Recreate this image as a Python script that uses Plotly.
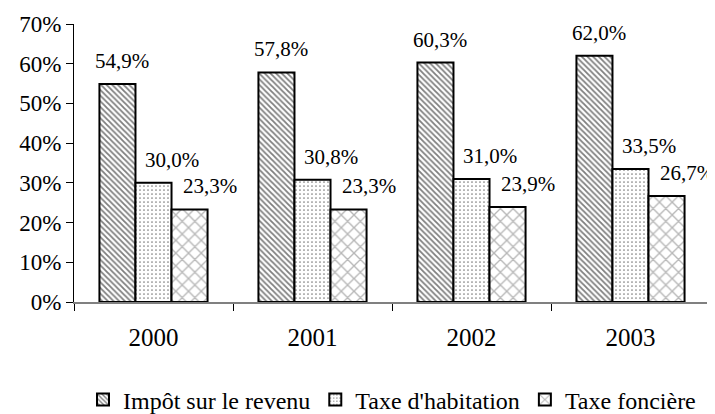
import plotly.graph_objects as go

years = ["2000", "2001", "2002", "2003"]
series_names = ["Impôt sur le revenu", "Taxe d'habitation", "Taxe foncière"]
impot = [54.9, 57.8, 60.3, 62.0]
habitation = [30.0, 30.8, 31.0, 33.5]
fonciere = [23.3, 23.3, 23.9, 26.7]
y_ticks = [0, 10, 20, 30, 40, 50, 60, 70]
y_tick_labels = ["0%", "10%", "20%", "30%", "40%", "50%", "60%", "70%"]

values = [impot, habitation, fonciere]
patterns = [
    dict(shape="\\", size=4, solidity=0.45, fgcolor="black", bgcolor="white"),
    dict(shape=".", size=4, solidity=0.15, fgcolor="black", bgcolor="white"),
    dict(shape="x", size=9, solidity=0.28, fgcolor="#707070", bgcolor="white"),
]

FONT = "Liberation Serif"
# page body has an 8px margin: figure drawn at (8, 8) in the window
W, H = 707, 406
ML, MR, MT, MB = 66, 5, 16, 112
bargap = 0.32
bar_frac = (1 - bargap) / 3
label_shift = [5, 18, 20]

fig = go.Figure()
for k, (name, vals, pat) in enumerate(zip(series_names, values, patterns)):
    fig.add_trace(go.Bar(
        x=years, y=vals, name=name,
        marker=dict(color="white", pattern=pat, line=dict(color="black", width=2)),
    ))
    for i, v in enumerate(vals):
        fig.add_annotation(
            x=i + (k - 1) * bar_frac, y=v, xref="x", yref="y",
            text=f"{v:.1f}%".replace(".", ","),
            showarrow=False, xanchor="center", yanchor="middle",
            xshift=label_shift[k], yshift=23,
            font=dict(family=FONT, size=21, color="black"),
        )

fig.update_layout(
    width=W, height=H,
    margin=dict(l=ML, r=MR, t=MT, b=MB, autoexpand=False),
    paper_bgcolor="white", plot_bgcolor="white",
    barmode="group", bargap=bargap, bargroupgap=0,
    font=dict(family=FONT, size=21, color="black"),
    showlegend=True,
    legend=dict(orientation="h", x=0.5, xanchor="center", y=-0.3525, yanchor="middle",
                font=dict(family=FONT, size=24, color="black"),
                itemwidth=30, traceorder="normal"),
)
fig.update_xaxes(
    type="category", range=[-0.5, 3.5], showline=True, linecolor="#808080", linewidth=2,
    ticks="outside", tickson="boundaries", ticklen=7, tickcolor="black", tickwidth=1,
    showgrid=False, tickfont=dict(family=FONT, size=25, color="black"),
    ticklabelstandoff=12, automargin=False,
)
fig.update_yaxes(
    range=[0, 70], tickvals=y_ticks, ticktext=y_tick_labels,
    showline=True, linecolor="black", linewidth=1,
    ticks="outside", ticklen=7, tickcolor="black", tickwidth=1,
    showgrid=False, zeroline=False, tickfont=dict(family=FONT, size=23, color="black"),
    automargin=False,
)

fig.write_html("out.html")
